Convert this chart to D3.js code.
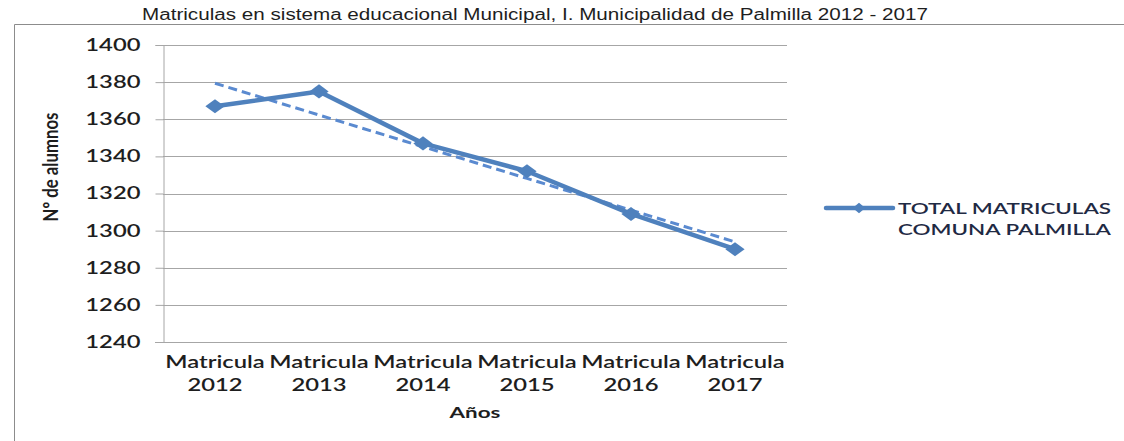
<!DOCTYPE html>
<html>
<head>
<meta charset="utf-8">
<script src="https://cdn.jsdelivr.net/npm/d3@7"></script>
<style>
  body { margin: 0; background: #fff; }
  text { fill: #1e1e1e; }
</style>
</head>
<body>
<div id="chart"></div>
<script>
const width = 1124;
const height = 441;

// data
const categories = ["Matricula 2012", "Matricula 2013", "Matricula 2014", "Matricula 2015", "Matricula 2016", "Matricula 2017"];
const matriculas = [1367, 1375, 1347, 1332, 1309, 1290];
const yTicks = [1240, 1260, 1280, 1300, 1320, 1340, 1360, 1380, 1400];
const seriesName = ["TOTAL MATRICULAS", "COMUNA PALMILLA"];

const blue = "#4f81bd";
const plot = {left: 163, right: 787, top: 45, bottom: 342};
const wide = 1.4; // the picture is stretched horizontally

const svg = d3.select("#chart").append("svg")
  .attr("width", width)
  .attr("height", height);

// outer frame of the chart object
svg.append("path")
  .attr("d", `M14.5,${height + 5} V24.5 H${width + 5}`)
  .attr("fill", "none")
  .attr("stroke", "#8c8c8c");

// title
svg.append("text")
  .attr("x", 535).attr("y", 20)
  .attr("text-anchor", "middle")
  .attr("textLength", 786)
  .attr("lengthAdjust", "spacingAndGlyphs")
  .style("font-family", "'Liberation Sans', Arial, sans-serif")
  .style("font-size", "16px")
  .text("Matriculas en sistema educacional Municipal, I. Municipalidad de Palmilla 2012 - 2017");

const x = d3.scaleBand()
  .domain(categories)
  .range([plot.left, plot.right]);

const y = d3.scaleLinear()
  .domain([1240, 1400])
  .range([plot.bottom, plot.top]);

// horizontal grid
svg.append("g")
  .selectAll("line")
  .data(yTicks.slice(1))
  .join("line")
  .attr("x1", plot.left).attr("x2", plot.right)
  .attr("y1", d => Math.round(y(d)) + 0.5)
  .attr("y2", d => Math.round(y(d)) + 0.5)
  .attr("stroke", "#a6a6a6");

// y axis
const yAxis = svg.append("g")
  .attr("transform", `translate(${plot.left + 0.5},0)`)
  .call(d3.axisLeft(y).tickValues(yTicks).tickSize(8).tickPadding(0).tickFormat(d3.format("d")));
yAxis.select(".domain").attr("stroke", "#a6a6a6");
yAxis.selectAll(".tick line").attr("stroke", "#a6a6a6");
yAxis.selectAll(".tick text")
  .attr("x", null)
  .attr("text-anchor", "end")
  .attr("transform", `translate(-23,0) scale(${wide},1)`)
  .style("font-family", "Lato, 'Open Sans', sans-serif")
  .style("font-size", "17px")
  .style("font-weight", 600);

// x axis
const xAxis = svg.append("g")
  .attr("transform", `translate(0,${plot.bottom + 0.5})`)
  .call(d3.axisBottom(x).tickSize(0).tickFormat(""));
xAxis.select(".domain").attr("stroke", "#a6a6a6").attr("d", `M${plot.left - 8},0H${plot.right}`);

// two-line category labels
const lab = svg.append("g").selectAll("text")
  .data(categories)
  .join("text")
  .attr("transform", d => `translate(${x(d) + x.bandwidth() / 2},0) scale(${wide},1)`)
  .attr("text-anchor", "middle")
  .style("font-family", "Lato, 'Open Sans', sans-serif")
  .style("font-size", "17px")
  .style("font-weight", 600);
lab.append("tspan").attr("x", 0).attr("y", 368).text(d => d.split(" ")[0]);
lab.append("tspan").attr("x", 0).attr("y", 391).text(d => d.split(" ")[1]);

// axis titles
svg.append("text")
  .attr("transform", `translate(475,418) scale(${wide},1)`)
  .attr("text-anchor", "middle")
  .style("font-family", "Lato, 'Open Sans', sans-serif")
  .style("font-weight", "bold")
  .style("font-size", "16px")
  .text("Años");

svg.append("text")
  .attr("transform", "translate(58,167) rotate(-90)")
  .attr("x", 0).attr("y", 0)
  .attr("text-anchor", "middle")
  .attr("textLength", 109)
  .attr("lengthAdjust", "spacingAndGlyphs")
  .style("font-family", "Lato, 'Open Sans', sans-serif")
  .style("font-weight", "bold")
  .style("font-size", "21px")
  .text("Nº de alumnos");

// linear trend line (least squares over the series)
const xs = matriculas.map((d, i) => i + 1);
const mx = d3.mean(xs), my = d3.mean(matriculas);
const slope = d3.sum(xs, (v, i) => (v - mx) * (matriculas[i] - my)) / d3.sum(xs, v => (v - mx) ** 2);
const trend = xs.map(v => my + slope * (v - mx));

const cx = d => x(d) + x.bandwidth() / 2;
const line = d3.line()
  .x(d => cx(d.cat))
  .y(d => y(d.val));

svg.append("path")
  .datum(categories.map((c, i) => ({cat: c, val: trend[i]})))
  .attr("d", line)
  .attr("fill", "none")
  .attr("stroke", "#5a8ad0")
  .attr("stroke-width", 3)
  .attr("stroke-dasharray", "9,5");

const pts = categories.map((c, i) => ({cat: c, val: matriculas[i]}));
svg.append("path")
  .datum(pts)
  .attr("d", line)
  .attr("fill", "none")
  .attr("stroke", blue)
  .attr("stroke-width", 4.5)
  .attr("stroke-linejoin", "round");

const diamond = d3.symbol(d3.symbolDiamond2, 140);
svg.append("g").selectAll("path")
  .data(pts)
  .join("path")
  .attr("transform", d => `translate(${cx(d.cat)},${y(d.val)}) scale(1.3,0.95)`)
  .attr("d", diamond)
  .attr("fill", blue);

// legend
const leg = svg.append("g").attr("transform", "translate(826,208)");
leg.append("line")
  .attr("x1", 0).attr("x2", 67)
  .attr("stroke", blue).attr("stroke-width", 4.5).attr("stroke-linecap", "round");
leg.append("path")
  .attr("transform", "translate(33,0) scale(0.85,0.7)")
  .attr("d", diamond)
  .attr("fill", blue);
const legText = leg.append("text")
  .attr("transform", `translate(72,0) scale(${wide},1)`)
  .style("font-family", "Lato, 'Open Sans', sans-serif")
  .style("font-size", "16px")
  .style("font-weight", 600)
  .style("fill", "#1f2a44");
legText.selectAll("tspan")
  .data(seriesName)
  .join("tspan")
  .attr("x", 0)
  .attr("y", (d, i) => 6 + i * 21)
  .text(d => d);
</script>
</body>
</html>
